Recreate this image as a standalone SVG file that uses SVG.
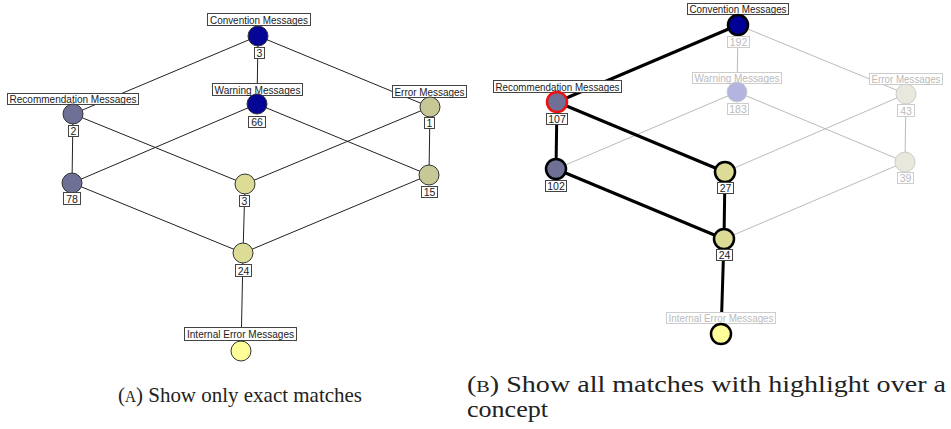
<svg xmlns="http://www.w3.org/2000/svg" width="951" height="429" viewBox="0 0 951 429">
<style>
.e{stroke:#222;stroke-width:1;fill:none}
.eb{stroke:#000;stroke-width:3;fill:none}
.ef{stroke:#bbb;stroke-width:1;fill:none}
.n{stroke:#333;stroke-width:1}
.nb{stroke:#000;stroke-width:2.5}
.nf{stroke:#ccc;stroke-width:1}
.box{fill:#fff;stroke:#444;stroke-width:1}
.boxf{fill:#fff;stroke:#ccc;stroke-width:1}
.t{font-family:"Liberation Sans",Arial,sans-serif;font-size:10.5px;fill:#222;text-anchor:middle}
.tf{font-family:"Liberation Sans",Arial,sans-serif;font-size:10.5px;fill:#bbb;text-anchor:middle}
.cap{font-family:"Liberation Serif","Times New Roman",serif;font-size:22px;fill:#222}
.capb{font-family:"Liberation Serif","Times New Roman",serif;font-size:23px;fill:#222}
</style>
<rect width="951" height="429" fill="#fff"/>
<g id="connectors-a">
<line class="e" x1="258" y1="36" x2="73" y2="114"/>
<line class="e" x1="258" y1="36" x2="257" y2="104"/>
<line class="e" x1="258" y1="36" x2="430" y2="107"/>
<line class="e" x1="73" y1="114" x2="72" y2="183"/>
<line class="e" x1="73" y1="114" x2="245" y2="184"/>
<line class="e" x1="257" y1="104" x2="72" y2="183"/>
<line class="e" x1="257" y1="104" x2="429" y2="175"/>
<line class="e" x1="430" y1="107" x2="245" y2="184"/>
<line class="e" x1="430" y1="107" x2="429" y2="175"/>
<line class="e" x1="72" y1="183" x2="243" y2="253"/>
<line class="e" x1="245" y1="184" x2="243" y2="253"/>
<line class="e" x1="429" y1="175" x2="243" y2="253"/>
<line class="e" x1="243" y1="253" x2="241" y2="351"/>
</g>
<g id="a-conv"><rect class="box" x="207.5" y="13.5" width="103" height="12"/><text class="t" x="259" y="23.5" textLength="98" lengthAdjust="spacingAndGlyphs">Convention Messages</text><circle class="n" cx="258" cy="36" r="10" fill="#050596"/><rect class="box" x="254.5" y="47.5" width="10" height="11"/><text class="t" x="259.5" y="57">3</text></g>
<g id="a-warn"><rect class="box" x="212.5" y="83.5" width="90" height="12"/><text class="t" x="257.5" y="93.5" textLength="86" lengthAdjust="spacingAndGlyphs">Warning Messages</text><circle class="n" cx="257" cy="104" r="10" fill="#050596"/><rect class="box" x="248.5" y="116.5" width="17" height="11"/><text class="t" x="257" y="126">66</text></g>
<g id="a-rec"><rect class="box" x="7.5" y="93.5" width="131" height="11"/><text class="t" x="73" y="103" textLength="127" lengthAdjust="spacingAndGlyphs">Recommendation Messages</text><circle class="n" cx="73" cy="114" r="10" fill="#6e7096"/><rect class="box" x="68.5" y="125.5" width="10" height="11"/><text class="t" x="73.5" y="135">2</text></g>
<g id="a-err"><rect class="box" x="392.5" y="85.5" width="74" height="12"/><text class="t" x="429.5" y="95.5" textLength="70" lengthAdjust="spacingAndGlyphs">Error Messages</text><circle class="n" cx="430" cy="107" r="10" fill="#c8c896"/><rect class="box" x="424.5" y="117.5" width="10" height="11"/><text class="t" x="429.5" y="127">1</text></g>
<g id="a-78"><circle class="n" cx="72" cy="183" r="10" fill="#6e7096"/><rect class="box" x="63.5" y="192.5" width="17" height="12"/><text class="t" x="72" y="202.5">78</text></g>
<g id="a-3"><circle class="n" cx="245" cy="184" r="10" fill="#dcdc96"/><rect class="box" x="239.5" y="195.5" width="10" height="11"/><text class="t" x="244.5" y="205">3</text></g>
<g id="a-15"><circle class="n" cx="429" cy="175" r="10" fill="#c8c896"/><rect class="box" x="421.5" y="186.5" width="16" height="11"/><text class="t" x="429.5" y="196">15</text></g>
<g id="a-24"><circle class="n" cx="243" cy="253" r="10" fill="#dcdc96"/><rect class="box" x="235.5" y="264.5" width="16" height="12"/><text class="t" x="243.5" y="274.5">24</text></g>
<g id="a-int"><rect class="box" x="184.5" y="327.5" width="112" height="13"/><text class="t" x="240.5" y="338" textLength="107" lengthAdjust="spacingAndGlyphs">Internal Error Messages</text><circle class="n" cx="241" cy="351" r="10" fill="#ffff99"/></g>

<g id="connectors-b">
<line class="ef" x1="738" y1="25" x2="737" y2="92"/>
<line class="ef" x1="738" y1="25" x2="906" y2="94"/>
<line class="ef" x1="737" y1="92" x2="556" y2="169"/>
<line class="ef" x1="737" y1="92" x2="905" y2="162"/>
<line class="ef" x1="906" y1="94" x2="725" y2="172"/>
<line class="ef" x1="906" y1="94" x2="905" y2="162"/>
<line class="ef" x1="905" y1="162" x2="724" y2="239"/>
<line class="eb" x1="738" y1="25" x2="557" y2="102"/>
<line class="eb" x1="557" y1="102" x2="556" y2="169"/>
<line class="eb" x1="557" y1="102" x2="725" y2="172"/>
<line class="eb" x1="556" y1="169" x2="724" y2="239"/>
<line class="eb" x1="725" y1="172" x2="724" y2="239"/>
<line class="eb" x1="724" y1="239" x2="721" y2="334"/>
</g>
<g id="b-warn"><rect class="boxf" x="692.5" y="72.5" width="89" height="11"/><text class="tf" x="737" y="82" textLength="85" lengthAdjust="spacingAndGlyphs">Warning Messages</text><circle class="nf" cx="737" cy="92" r="10" fill="#b4b4e0"/><rect class="boxf" x="727.5" y="103.5" width="21" height="11"/><text class="tf" x="738" y="113">183</text></g>
<g id="b-err"><rect class="boxf" x="869.5" y="73.5" width="73" height="11"/><text class="tf" x="906" y="83" textLength="69" lengthAdjust="spacingAndGlyphs">Error Messages</text><circle class="nf" cx="906" cy="94" r="10" fill="#e8e8dc"/><rect class="boxf" x="897.5" y="104.5" width="17" height="12"/><text class="tf" x="906" y="114.5">43</text></g>
<g id="b-39"><circle class="nf" cx="905" cy="162" r="10" fill="#e8e8dc"/><rect class="boxf" x="897.5" y="172.5" width="16" height="11"/><text class="tf" x="905.5" y="182">39</text></g>
<g id="b-int"><rect class="boxf" x="666.5" y="312.5" width="109" height="11"/><text class="tf" x="721" y="322" textLength="105" lengthAdjust="spacingAndGlyphs">Internal Error Messages</text><circle class="nb" cx="721" cy="334" r="10" fill="#ffff99"/></g>
<g id="b-conv"><rect class="box" x="687.5" y="3.5" width="101" height="11"/><text class="t" x="738" y="13" textLength="97" lengthAdjust="spacingAndGlyphs">Convention Messages</text><circle class="nb" cx="738" cy="25" r="10" fill="#000096"/><rect class="boxf" x="727.5" y="36.5" width="22" height="11"/><text class="tf" x="738.5" y="46">192</text></g>
<g id="b-rec"><rect class="box" x="493.5" y="80.5" width="128" height="12"/><text class="t" x="557.5" y="90.5" textLength="124" lengthAdjust="spacingAndGlyphs">Recommendation Messages</text><circle cx="557" cy="102" r="10" fill="#6e7096" stroke="#ee1111" stroke-width="2.5"/><rect class="box" x="546.5" y="113.5" width="21" height="11"/><text class="t" x="557" y="123">107</text></g>
<g id="b-102"><circle class="nb" cx="556" cy="169" r="10" fill="#6e7096"/><rect class="box" x="545.5" y="180.5" width="21" height="11"/><text class="t" x="556" y="190">102</text></g>
<g id="b-27"><circle class="nb" cx="725" cy="172" r="10" fill="#dcdc96"/><rect class="box" x="717.5" y="182.5" width="16" height="11"/><text class="t" x="725.5" y="192">27</text></g>
<g id="b-24"><circle class="nb" cx="724" cy="239" r="10" fill="#dcdc96"/><rect class="box" x="716.5" y="249.5" width="16" height="11"/><text class="t" x="724.5" y="259">24</text></g>

<text class="cap" x="118" y="402" textLength="244" lengthAdjust="spacingAndGlyphs">(<tspan font-size="16">A</tspan>) Show only exact matches</text>
<text class="capb" x="467" y="392" textLength="479" lengthAdjust="spacingAndGlyphs">(<tspan font-size="16.5">B</tspan>) Show all matches with highlight over a</text>
<text class="capb" x="467" y="417" textLength="81" lengthAdjust="spacingAndGlyphs">concept</text>
</svg>
